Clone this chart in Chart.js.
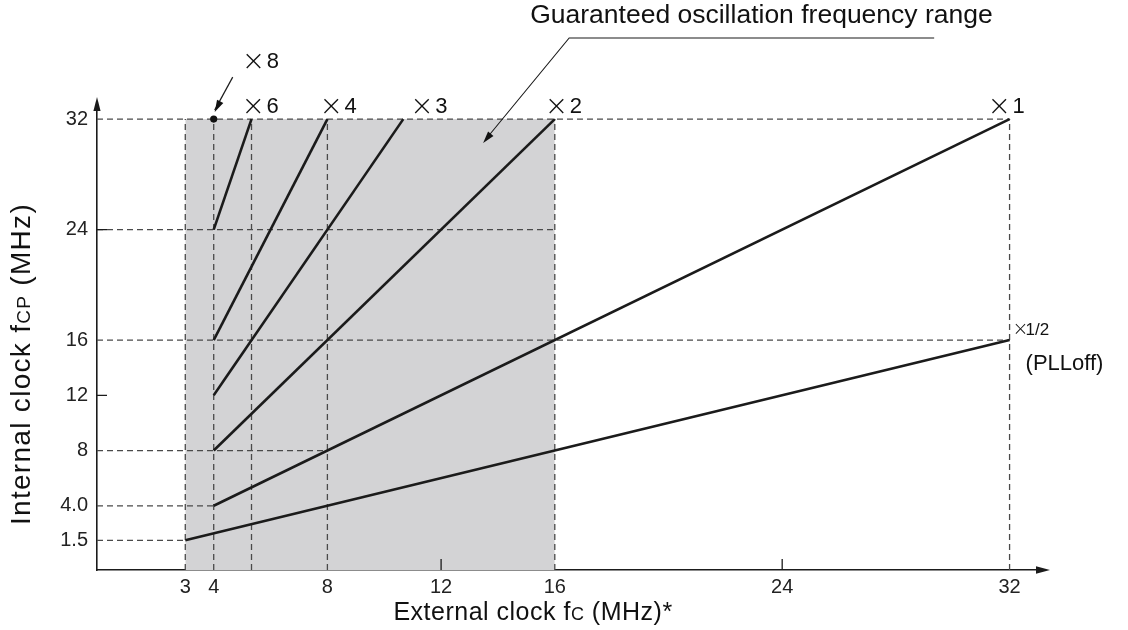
<!DOCTYPE html>
<html><head><meta charset="utf-8">
<script src="https://cdn.jsdelivr.net/npm/chart.js@4"></script>
<style>html,body{margin:0;padding:0;background:#fff}#c{display:block}</style>
</head><body>
<canvas id="c" width="1128" height="630"></canvas>
<script>
// ---------- data ----------
const xTicks = [3, 4, 8, 12, 16, 24, 32];
const yTicks = [1.5, 4, 8, 12, 16, 24, 32];
const yTickLabels = ['1.5', '4.0', '8', '12', '16', '24', '32'];

const seriesLabels = ['×6', '×4', '×3', '×2', '×1', '×1/2'];
const startFc  = [4, 4, 4, 4, 4, 3];
const startFcp = [24, 16, 12, 8, 4, 1.5];
const endFc    = [5.33, 8, 10.67, 16, 32, 32];
const endFcp   = [32, 32, 32, 32, 32, 16];

const x8Label = '×8';
const x8Point = [4, 32];

const rangeFc  = [3, 16];
const rangeFcp = 32;

const hGuideFcp   = [32, 24, 16, 8, 4, 1.5];
const hGuideEndFc = [32, 16, 32, 8, 4, 3];
const vGuideFc    = [3, 4, 5.33, 8, 16, 32];
const vGuideTopFcp = [32, 32, 32, 32, 32, 32];

const yTickMarks = [12, 24];
const xTickMarks = [12, 24];

const rangeText = 'Guaranteed oscillation frequency range';
const rangeArrowTip = [13.48, 30.27];

// ---------- scale limits ----------
const X_MIN = -0.106, X_MAX = 33.0;
const Y_MIN = -0.65,  Y_MAX = 32.66;

const FONT = '"Liberation Sans", Arial, Helvetica, sans-serif';
const XFONT = '"DejaVu Sans", sans-serif';
const INK = '#1b1b1b';
const GUIDE = '#4a4a4a';

// ---------- datasets ----------
const datasets = [];
seriesLabels.forEach((lab, i) => {
  datasets.push({
    label: lab,
    data: [{x: startFc[i], y: startFcp[i]}, {x: endFc[i], y: endFcp[i]}],
    borderColor: INK, borderWidth: 2.6, pointRadius: 0, fill: false, order: 1
  });
});
datasets.push({
  label: x8Label,
  data: [{x: x8Point[0], y: x8Point[1]}],
  showLine: false, pointRadius: 3.6, pointBackgroundColor: '#111', pointBorderWidth: 0, order: 0
});
hGuideFcp.forEach((v, i) => {
  datasets.push({
    data: [{x: X_MIN, y: v}, {x: hGuideEndFc[i], y: v}],
    borderColor: GUIDE, borderWidth: 1.3, borderDash: [6, 4], pointRadius: 0, fill: false, order: 2
  });
});
vGuideFc.forEach((v, i) => {
  datasets.push({
    data: [{x: v, y: Y_MIN}, {x: v, y: vGuideTopFcp[i]}],
    borderColor: GUIDE, borderWidth: 1.3, borderDash: [6, 4], pointRadius: 0, fill: false, order: 2
  });
});
datasets.push({
  data: [{x: rangeFc[0], y: rangeFcp}, {x: rangeFc[1], y: rangeFcp}],
  borderWidth: 0, borderColor: 'rgba(0,0,0,0)', backgroundColor: '#d3d3d5',
  fill: 'start', pointRadius: 0, order: 5
});

// ---------- helpers ----------
function arrowHead(ctx, fx, fy, tx, ty, len, hw) {
  const ang = Math.atan2(ty - fy, tx - fx);
  ctx.save();
  ctx.translate(tx, ty); ctx.rotate(ang);
  ctx.beginPath(); ctx.moveTo(0, 0); ctx.lineTo(-len, -hw); ctx.lineTo(-len, hw); ctx.closePath();
  ctx.fill();
  ctx.restore();
}
function rich(ctx, parts, x, y, align, rot, spacing) {
  ctx.save();
  ctx.letterSpacing = (spacing || 0) + 'px';
  let w = 0;
  parts.forEach(p => { ctx.font = p[1] + 'px ' + FONT; w += ctx.measureText(p[0]).width; });
  ctx.translate(x, y); if (rot) ctx.rotate(rot);
  let cx = align === 'center' ? -w / 2 : 0;
  ctx.textAlign = 'left'; ctx.textBaseline = 'alphabetic';
  parts.forEach(p => { ctx.font = p[1] + 'px ' + FONT; ctx.fillText(p[0], cx, 0); cx += ctx.measureText(p[0]).width; });
  ctx.restore();
}
function timesLabel(ctx, text, px, py) {
  ctx.textAlign = 'left'; ctx.textBaseline = 'alphabetic';
  ctx.font = '300 28px ' + XFONT;
  ctx.fillText('×', px - 3, py + 2);
  ctx.font = '22px ' + FONT;
  ctx.fillText(text.slice(1), px + 22, py);
}

const labelOffsets = [[-7, -6], [-5, -6], [10, -6], [-7, -6], [-19, -6]];

const annotations = {
  id: 'annotations',
  afterDatasetsDraw(chart) {
    const {ctx, chartArea: a, scales: {x, y}} = chart;
    ctx.save();
    ctx.fillStyle = INK; ctx.strokeStyle = INK;
    arrowHead(ctx, a.left, a.bottom, a.left, a.top - 13, 14, 3.6);
    arrowHead(ctx, a.left, a.bottom, a.right + 12, a.bottom, 14, 3.8);
    ctx.lineWidth = 1.6;
    ctx.beginPath();
    ctx.moveTo(a.left, a.top); ctx.lineTo(a.left, a.top - 4);
    ctx.moveTo(a.right, a.bottom); ctx.lineTo(a.right + 4, a.bottom);
    ctx.stroke();
    ctx.lineWidth = 1.3;
    ctx.beginPath();
    yTickMarks.forEach(v => { const py = y.getPixelForValue(v); ctx.moveTo(a.left, py); ctx.lineTo(a.left + 10, py); });
    xTickMarks.forEach(v => { const px = x.getPixelForValue(v); ctx.moveTo(px, a.bottom); ctx.lineTo(px, a.bottom - 11); });
    ctx.stroke();

    ctx.fillStyle = '#111';
    for (let i = 0; i < 5; i++) {
      const px = x.getPixelForValue(endFc[i]) + labelOffsets[i][0];
      const py = y.getPixelForValue(endFcp[i]) + labelOffsets[i][1];
      timesLabel(ctx, seriesLabels[i], px, py);
    }
    {
      const px = x.getPixelForValue(endFc[5]), py = y.getPixelForValue(endFcp[5]);
      ctx.textAlign = 'left';
      ctx.font = '300 19px ' + XFONT; ctx.fillText('×', px + 3, py - 5);
      ctx.font = '17px ' + FONT; ctx.fillText(seriesLabels[5].slice(1), px + 16, py - 5);
      ctx.font = '22px ' + FONT; ctx.fillText('(PLLoff)', px + 16, py + 30);
    }
    {
      const px = x.getPixelForValue(x8Point[0]), py = y.getPixelForValue(x8Point[1]);
      timesLabel(ctx, x8Label, px + 31, py - 51);
      ctx.lineWidth = 1.2;
      ctx.beginPath(); ctx.moveTo(px + 19, py - 42); ctx.lineTo(px + 1, py - 9); ctx.stroke();
      arrowHead(ctx, px + 19, py - 42, px + 1, py - 7, 12, 3.5);
    }
    {
      const tx = x.getPixelForValue(rangeArrowTip[0]), ty = y.getPixelForValue(rangeArrowTip[1]);
      const jx = tx + 86, jy = ty - 105;
      ctx.lineWidth = 1.1;
      ctx.beginPath(); ctx.moveTo(tx + 2, ty - 3); ctx.lineTo(jx, jy); ctx.lineTo(jx + 365, jy); ctx.stroke();
      arrowHead(ctx, jx, jy, tx, ty, 12, 3.5);
      ctx.font = '26.5px ' + FONT; ctx.textAlign = 'left';
      ctx.fillText(rangeText, jx - 39, jy - 15);
    }
    ctx.fillStyle = '#111';
    rich(ctx, [['Internal clock f', 28], ['CP', 19], [' (MHz)', 28]], 30, 364, 'center', -Math.PI / 2, 1.3);
    rich(ctx, [['External clock f', 25], ['C', 18], [' (MHz)*', 25]], 533, 620, 'center', 0, 0.5);
    ctx.restore();
  }
};

new Chart(document.getElementById('c'), {
  type: 'line',
  data: {datasets},
  plugins: [annotations],
  options: {
    responsive: false, animation: false, devicePixelRatio: 1,
    layout: {padding: {top: 110, right: 90, bottom: 0, left: 0}},
    plugins: {legend: {display: false}, tooltip: {enabled: false}},
    elements: {line: {tension: 0}},
    scales: {
      x: {
        type: 'linear', min: X_MIN, max: X_MAX,
        grid: {display: false, drawTicks: false},
        border: {display: true, color: INK, width: 1.6},
        afterBuildTicks: s => { s.ticks = xTicks.map(v => ({value: v})); },
        afterFit: s => { s.height = 60; },
        ticks: {autoSkip: false, maxRotation: 0, padding: 5, color: '#222',
                font: {family: FONT, size: 20}, callback: (v, i) => String(xTicks[i])}
      },
      y: {
        type: 'linear', min: Y_MIN, max: Y_MAX,
        grid: {display: false, drawTicks: false},
        border: {display: true, color: INK, width: 1.6},
        afterBuildTicks: s => { s.ticks = yTicks.map(v => ({value: v})); },
        afterFit: s => { s.width = 97; },
        ticks: {autoSkip: false, padding: 9, color: '#222',
                font: {family: FONT, size: 20}, callback: (v, i) => yTickLabels[i]}
      }
    }
  }
});
</script>
</body></html>
